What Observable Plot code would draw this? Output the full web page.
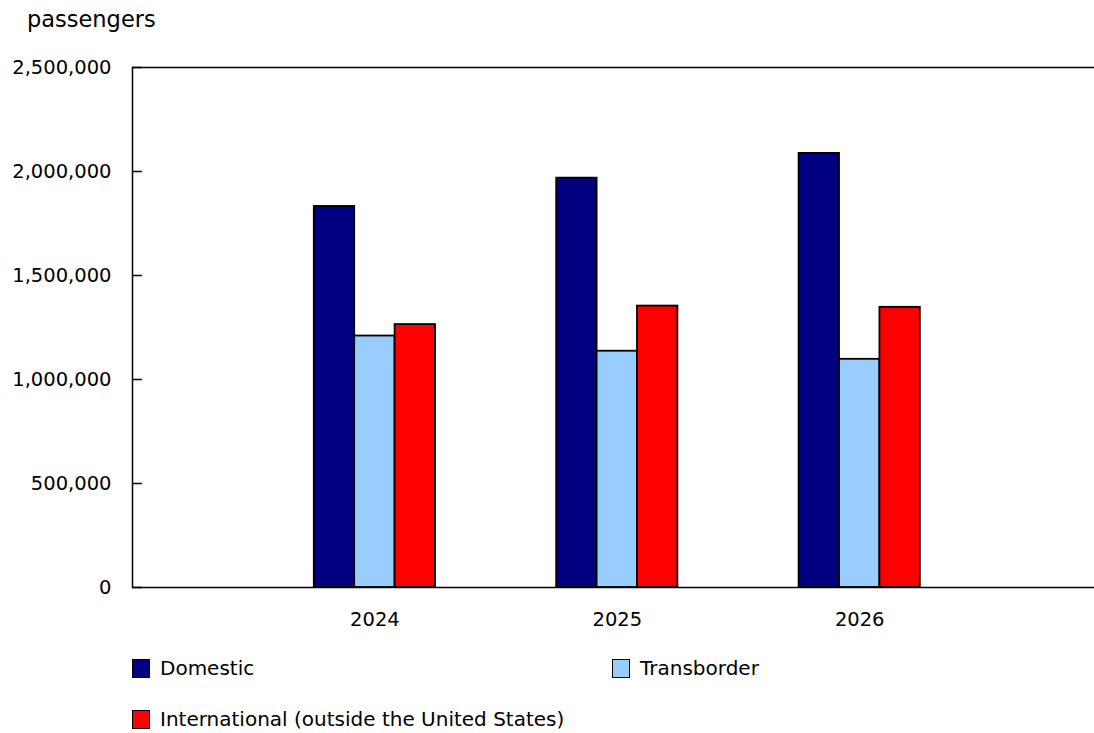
<!DOCTYPE html>
<html><head><meta charset="utf-8">
<script src="https://cdn.jsdelivr.net/npm/d3@7"></script>
<script src="https://cdn.jsdelivr.net/npm/@observablehq/plot@0.6"></script>
<style>
body{margin:0;background:#fff;font-family:"DejaVu Sans",Verdana,sans-serif;color:#000;}
#wrap{position:relative;width:1094px;height:733px;overflow:hidden;}
#unit{position:absolute;left:27px;top:8px;font-size:22.5px;line-height:22.5px;}
#chart{position:absolute;left:0;top:0;width:1110px;}
.leg{position:absolute;font-size:20px;line-height:20px;display:flex;align-items:center;white-space:nowrap;}
.sw{width:16px;height:17px;border:1.5px solid #000;margin-right:10px;box-sizing:content-box;}
</style></head>
<body>
<div id="wrap">
  <div id="unit">passengers</div>
  <div id="chart"></div>
  <div id="legend"></div>
</div>
<script>
const years = ["2024", "2025", "2026"];
const series = ["Domestic", "Transborder", "International (outside the United States)"];
const domestic = [1832000, 1968000, 2087000];
const transborder = [1209000, 1136000, 1097000];
const international = [1264000, 1353000, 1347000];
const colors = ["#000080", "#99ccff", "#ff0000"];
const yTicks = [0, 500000, 1000000, 1500000, 2000000, 2500000];

const valuesBySeries = [domestic, transborder, international];
const key = (yr, s) => yr + "|" + s;
const rows = [];
years.forEach((yr, i) => series.forEach((s, j) => rows.push({year: yr, series: s, key: key(yr, s), value: valuesBySeries[j][i]})));

// band domain: each year's three bars, separated by empty slots of the same width
const xDomain = years.flatMap((yr, i) => [
  ...(i ? series.map((s) => key(yr, "gap " + s)) : []),
  ...series.map((s) => key(yr, s))
]);
const xTicks = years.map((yr) => key(yr, series[1]));

const chart = Plot.plot({
  width: 1110, height: 640,
  marginLeft: 132, marginRight: 8.4, marginTop: 67, marginBottom: 53,
  style: {fontFamily: "'DejaVu Sans', Verdana, sans-serif", fontSize: "19.5px", color: "#000", background: "transparent", maxWidth: "none"},
  x: {type: "band", domain: xDomain, paddingInner: 0, paddingOuter: 4.5, round: false, axis: null},
  y: {domain: [0, 2500000], axis: null},
  color: {domain: series, range: colors},
  marks: [
    Plot.barY(rows, {x: "key", y: "value", fill: "series", stroke: "#000", strokeWidth: 1.8}),
    Plot.frame({stroke: "#000", strokeWidth: 1.5}),
    Plot.axisY({ticks: yTicks, tickFormat: d3.format(","), tickSize: -10, tickPadding: 31, label: null, strokeWidth: 1.5}),
    Plot.axisX({ticks: xTicks, tickFormat: (d) => d.split("|")[0], tickSize: 0, tickPadding: 25, label: null})
  ]
});
document.getElementById("chart").appendChild(chart);

const legend = document.getElementById("legend");
const legPos = [[132, 658], [612, 658], [132, 709]];
series.forEach((s, j) => {
  const d = document.createElement("div");
  d.className = "leg";
  d.style.left = legPos[j][0] + "px";
  d.style.top = legPos[j][1] + "px";
  d.innerHTML = `<span class="sw" style="background:${colors[j]}"></span><span>${s}</span>`;
  legend.appendChild(d);
});
</script>
</body></html>
